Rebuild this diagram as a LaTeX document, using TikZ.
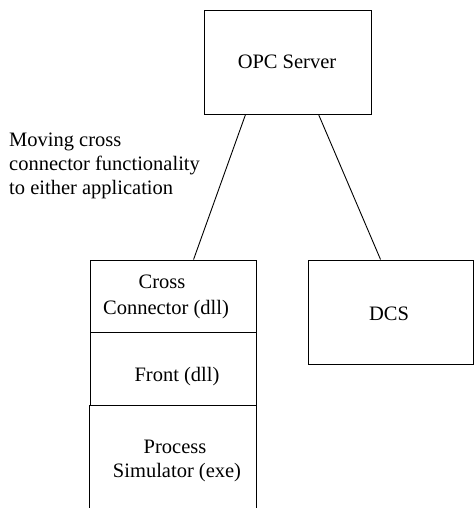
\documentclass[tikz,border=0pt]{standalone}
\usepackage{fontspec}
\setmainfont{Liberation Serif}
\usetikzlibrary{calc}
\begin{document}
\begin{tikzpicture}[x=1pt,y=-1pt,
  every node/.style={font=\fontsize{20.5}{24}\selectfont, inner sep=0pt},
  box/.style={draw, line width=0.9pt, rectangle},
  plain/.style={draw=none, rectangle},
  link/.style={line width=0.9pt}]
\useasboundingbox (0,0) rectangle (474,508);

% top server box
\node[box, minimum width=167, minimum height=104] (opc) at (287.5,62) {};
\node (opct) at (287,62) {OPC Server};

% right box
\node[box, minimum width=165, minimum height=104] (dcs) at (390.5,312) {};
\node (dcst) at (389,314) {DCS};

% left stack of layers
\node[box, minimum width=166, minimum height=72] (cc) at (173,296) {};
\node[box, minimum width=166, minimum height=73] (front) at (173,368.5) {};
\node[plain, minimum width=166, minimum height=103] (sim) at (173,456.5) {};
\draw[link] (sim.south west) -- (sim.north west);
\draw[link] (sim.south east) -- (sim.north east);

\node (cct1) at (162,282) {Cross};
\node (cct2) at (166,310) {Connector (dll)};
\node (frontt) at (177,377) {Front (dll)};
\node (simt1) at (175,447) {Process};
\node (simt2) at (177,473) {Simulator (exe)};

% annotation
\node[anchor=west, align=left] (note) at (9,166) {Moving cross\\connector functionality\\to either application};

% connectors
\draw[link] ($(opc.south west)+(42,0)$) -- ($(cc.north west)+(104,0)$);
\draw[link] ($(opc.south west)+(115,0)$) -- ($(dcs.north west)+(73,0)$);
\end{tikzpicture}
\end{document}
